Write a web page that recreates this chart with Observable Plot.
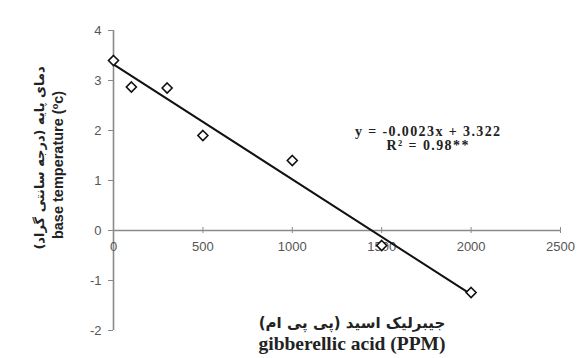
<!DOCTYPE html>
<html><head><meta charset="utf-8">
<script src="https://cdn.jsdelivr.net/npm/d3@7"></script>
<script src="https://cdn.jsdelivr.net/npm/@observablehq/plot@0.6"></script>
<style>body{margin:0;background:#fff}</style>
</head><body><div id="chart"></div>
<script>
const gibberellin = [0, 100, 300, 500, 1000, 1500, 2000];
const baseTemp = [3.4, 2.87, 2.85, 1.9, 1.4, -0.3, -1.24];
const trendX = [0, 2000];
const trendY = [3.322, -1.278];
const xTicks = [0, 500, 1000, 1500, 2000, 2500];
const yTicks = [-2, -1, 0, 1, 2, 3, 4];
const equation = ["y = -0.0023x + 3.322", "R² = 0.98**"];

const pts = gibberellin.map((x, i) => ({x, y: baseTemp[i]}));
const trend = trendX.map((x, i) => ({x, y: trendY[i]}));
const axisGray = "#8a8a8a";
const labelGray = "#555";

const svg = Plot.plot({
  width: 578, height: 358,
  marginLeft: 113, marginRight: 18, marginTop: 30, marginBottom: 28,
  x: {domain: [0, 2500], axis: null},
  y: {domain: [-2, 4], axis: null},
  style: {fontFamily: "Liberation Sans, sans-serif", background: "#fff"},
  marks: [
    Plot.axisY(yTicks, {anchor: "left", label: null, tickFormat: d => String(d), tickSize: 5, tickPadding: 7, fontSize: 13, color: labelGray, stroke: axisGray}),
    Plot.ruleX([0], {y1: -2, y2: 4, stroke: axisGray, strokeWidth: 1.6}),
    Plot.ruleY([0], {x1: 0, x2: 2500, stroke: axisGray, strokeWidth: 1.6}),
    Plot.ruleX(xTicks, {x: d => d, y1: -0.06, y2: 0.06, stroke: axisGray}),
    Plot.text(xTicks, {x: d => d, y: 0, dy: 16, text: d => String(d), fill: labelGray, fontSize: 13}),
    Plot.line(trend, {x: "x", y: "y", stroke: "#111", strokeWidth: 2}),
    Plot.dot(pts, {x: "x", y: "y", symbol: "diamond2", r: 4.5, fill: "#fff", stroke: "#111", strokeWidth: 1.6}),
    Plot.text([equation.join("\n")], {x: 1760, y: 1.84, text: d => d, lineHeight: 1.0, fontFamily: "Liberation Serif, serif", fontWeight: "bold", fontSize: 14, fill: "#222", className: "eq"})
  ]
});

const s = d3.select(svg);
s.selectAll(".eq text").attr("letter-spacing", 1.4);
const g = s.append("g").attr("fill", "#222").attr("font-weight", "bold").attr("text-anchor", "middle");
g.append("text").attr("transform", "translate(44,158) rotate(-90)")
  .attr("font-family", "DejaVu Sans, sans-serif").attr("font-size", 13).attr("direction", "rtl")
  .text("دمای پایه (درجه سانتی گراد)");
const t = g.append("text").attr("transform", "translate(63,165) rotate(-90)")
  .attr("font-family", "Liberation Sans, sans-serif").attr("font-size", 14.5);
t.append("tspan").text("base temperature (");
t.append("tspan").attr("font-size", 9).attr("dy", -5).text("o");
t.append("tspan").attr("dy", 5).text("c)");
g.append("text").attr("x", 352).attr("y", 328)
  .attr("font-family", "DejaVu Sans, sans-serif").attr("font-size", 15).attr("direction", "rtl")
  .text("جیبرلیک اسید (پی پی ام)");
g.append("text").attr("x", 352).attr("y", 350)
  .attr("font-family", "Liberation Serif, serif").attr("font-size", 19.5)
  .text("gibberellic acid (PPM)");

document.getElementById("chart").appendChild(svg);
</script>
</body></html>
